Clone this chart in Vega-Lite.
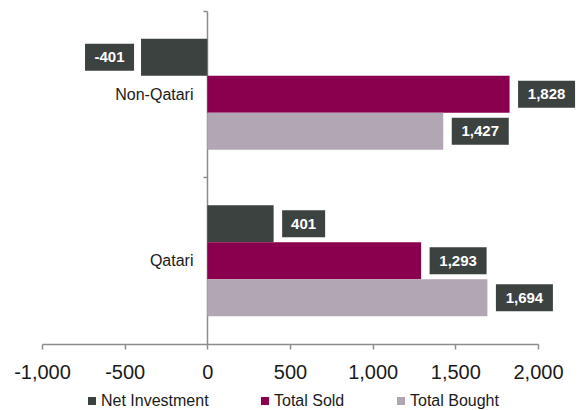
{
  "$schema": "https://vega.github.io/schema/vega-lite/v6.json",
  "width": 496,
  "height": 333,
  "autosize": {"type": "none"},
  "padding": {"left": 42, "top": 11, "right": 42, "bottom": 66},
  "config": {"view": {"stroke": null}, "font": "Liberation Sans"},
  "data": {
    "values": [
      {"group": "Non-Qatari", "series": "Net Investment", "value": -401},
      {"group": "Non-Qatari", "series": "Total Sold", "value": 1828},
      {"group": "Non-Qatari", "series": "Total Bought", "value": 1427},
      {"group": "Qatari", "series": "Net Investment", "value": 401},
      {"group": "Qatari", "series": "Total Sold", "value": 1293},
      {"group": "Qatari", "series": "Total Bought", "value": 1694}
    ]
  },
  "transform": [
    {"calculate": "replace(format(datum.value, ','), '\u2212', '-')", "as": "label"}
  ],
  "encoding": {
    "y": {
      "field": "group",
      "type": "nominal",
      "sort": ["Non-Qatari", "Qatari"],
      "title": null,
      "scale": {"paddingInner": 0.333, "paddingOuter": 0.1667},
      "axis": {
        "offset": -165,
        "tickOffset": -83.25,
        "labelOffset": 83.25,
        "domainColor": "#8c8c8c",
        "domainWidth": 1.5,
        "tickColor": "#8c8c8c",
        "tickWidth": 1.5,
        "tickSize": 4,
        "labelPadding": 10,
        "labelFontSize": 16,
        "labelColor": "#1a1a1a"
      }
    },
    "yOffset": {
      "field": "series",
      "sort": ["Net Investment", "Total Sold", "Total Bought"],
      "scale": {"paddingInner": 0, "paddingOuter": 0}
    },
    "x": {
      "field": "value",
      "type": "quantitative",
      "title": null,
      "scale": {"domain": [-1000, 2000], "nice": false, "zero": false},
      "axis": {
        "values": [-1000, -500, 0, 500, 1000, 1500, 2000],
        "labelExpr": "replace(format(datum.value, ','), '\u2212', '-')",
        "labelFlush": false,
        "labelOverlap": false,
        "grid": false,
        "domainColor": "#8c8c8c",
        "domainWidth": 1.5,
        "tickColor": "#8c8c8c",
        "tickWidth": 1.5,
        "tickSize": 5,
        "labelPadding": 13,
        "labelFontSize": 20,
        "labelColor": "#1a1a1a"
      }
    }
  },
  "layer": [
    {
      "mark": {"type": "bar"},
      "encoding": {
        "color": {
          "field": "series",
          "type": "nominal",
          "sort": ["Net Investment", "Total Sold", "Total Bought"],
          "scale": {
            "domain": ["Net Investment", "Total Sold", "Total Bought"],
            "range": ["#3b4240", "#8a004f", "#b2a6b4"]
          },
          "legend": {
            "orient": "none",
            "legendX": 42,
            "legendY": 382,
            "direction": "horizontal",
            "columns": 3,
            "title": null,
            "symbolType": "square",
            "symbolSize": 64,
            "symbolStrokeWidth": 0,
            "labelFontSize": 16,
            "labelColor": "#1a1a1a",
            "labelOffset": 1,
            "columnPadding": 48,
            "padding": 0,
            "labelLimit": 300
          }
        }
      }
    },
    {
      "transform": [{"filter": "datum.series != 'Net Investment'"}],
      "mark": {"type": "point", "shape": "M8.5,-13.5L65.5,-13.5L65.5,13.5L8.5,13.5Z", "size": 4, "filled": true, "opacity": 1, "color": "#3b4240", "strokeWidth": 0}
    },
    {
      "transform": [{"filter": "datum.series != 'Net Investment'"}],
      "mark": {"type": "text", "dx": 37, "align": "center", "baseline": "middle", "color": "white", "fontWeight": "bold", "fontSize": 15},
      "encoding": {"text": {"field": "label"}}
    },
    {
      "transform": [{"filter": "datum.series == 'Net Investment' && datum.value >= 0"}],
      "mark": {"type": "point", "shape": "M8.5,-13.5L51.5,-13.5L51.5,13.5L8.5,13.5Z", "size": 4, "filled": true, "opacity": 1, "color": "#3b4240", "strokeWidth": 0}
    },
    {
      "transform": [{"filter": "datum.series == 'Net Investment' && datum.value >= 0"}],
      "mark": {"type": "text", "dx": 30, "align": "center", "baseline": "middle", "color": "white", "fontWeight": "bold", "fontSize": 15},
      "encoding": {"text": {"field": "label"}}
    },
    {
      "transform": [{"filter": "datum.series == 'Net Investment' && datum.value < 0"}],
      "mark": {"type": "point", "shape": "M-56,-13.5L-7,-13.5L-7,13.5L-56,13.5Z", "size": 4, "filled": true, "opacity": 1, "color": "#3b4240", "strokeWidth": 0}
    },
    {
      "transform": [{"filter": "datum.series == 'Net Investment' && datum.value < 0"}],
      "mark": {"type": "text", "dx": -31.5, "align": "center", "baseline": "middle", "color": "white", "fontWeight": "bold", "fontSize": 15},
      "encoding": {"text": {"field": "label"}}
    }
  ]
}
